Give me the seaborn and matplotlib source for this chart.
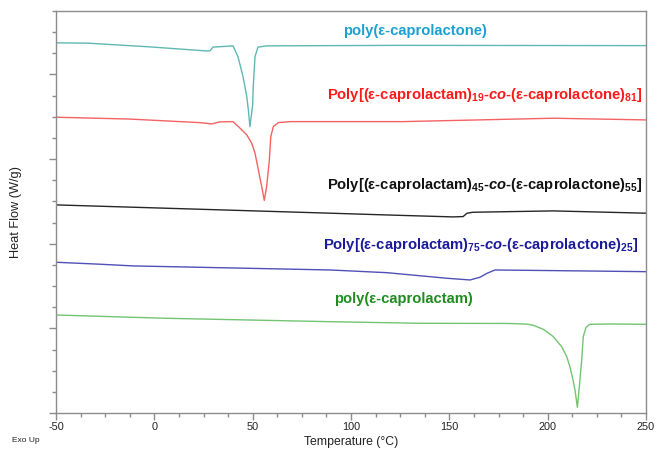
import matplotlib
matplotlib.use("Agg")
import numpy as np
import pandas as pd
import matplotlib.pyplot as plt
import seaborn as sns
from matplotlib.ticker import MultipleLocator, NullFormatter

# --------------------------------------------------------------------------- #
# DATA  (heat flow in arbitrary offset units)    #
# --------------------------------------------------------------------------- #
pcl_T = [-50, -33.7, -2.2, 25.8, 28.3, 29.8, 40.0, 42.5, 45.1, 47.0, 47.8, 48.6,
         49.5, 50.0, 50.3, 51.2, 52.7, 57.1, 124.9, 250]
pcl_hf = [4.374, 4.370, 4.326, 4.279, 4.279, 4.323, 4.338, 4.212, 3.975, 3.739,
          3.582, 3.384, 3.546, 3.641, 3.857, 4.212, 4.323, 4.338, 4.344, 4.341]

co19_T = [-50, -12.4, 23.2, 29.2, 33.4, 40.0, 43.6, 47.0, 49.5, 51.2, 52.9, 54.6,
          55.9, 57.1, 58.5, 59.2, 60.5, 63.0, 69.0, 126.4, 202.7, 250]
co19_hf = [3.495, 3.473, 3.431, 3.416, 3.440, 3.443, 3.365, 3.286, 3.188, 3.070,
           2.872, 2.675, 2.512, 2.675, 2.991, 3.266, 3.384, 3.431, 3.443, 3.443,
           3.483, 3.463]

co45_T = [-50, 89.3, 118.3, 151.9, 157.0, 159.0, 162.0, 202.7, 250]
co45_hf = [2.459, 2.361, 2.340, 2.317, 2.321, 2.361, 2.372, 2.388, 2.361]

co75_T = [-50, -27.6, -10.8, 89.3, 118.3, 148.8, 160.5, 165.6, 169.2, 173.2, 220.0, 250]
co75_hf = [1.781, 1.758, 1.738, 1.690, 1.658, 1.592, 1.572, 1.604, 1.651, 1.690,
           1.678, 1.670]

pa6_T = [-50, 6.4, 89.3, 135.1, 180.0, 189.5, 192.7, 197.8, 202.9, 207.1, 209.7,
         211.3, 212.7, 213.9, 215.1, 216.1, 217.3, 218.1, 219.5, 221.5, 231.7, 250]
pa6_hf = [1.158, 1.119, 1.079, 1.060, 1.058, 1.050, 1.036, 0.989, 0.902, 0.784,
          0.666, 0.547, 0.410, 0.272, 0.067, 0.311, 0.626, 0.902, 1.013, 1.048,
          1.052, 1.048]

series = [
    ("PCL", pcl_T, pcl_hf, "#5fb8b3"),
    ("co19", co19_T, co19_hf, "#f56262"),
    ("co45", co45_T, co45_hf, "#262626"),
    ("co75", co75_T, co75_hf, "#5050b8"),
    ("PA6", pa6_T, pa6_hf, "#72c472"),
]

labels = [
    ("poly(ε-caprolactone)", "#1ba1d0", 415, 31),
    ("Poly[(ε-caprolactam)$_{19}$-$\\mathit{co}$-(ε-caprolactone)$_{81}$]", "#ff1a1a", 485, 95),
    ("Poly[(ε-caprolactam)$_{45}$-$\\mathit{co}$-(ε-caprolactone)$_{55}$]", "#111111", 485, 185),
    ("Poly[(ε-caprolactam)$_{75}$-$\\mathit{co}$-(ε-caprolactone)$_{25}$]", "#1a1a9a", 481, 245),
    ("poly(ε-caprolactam)", "#1f8c1f", 403, 299),
]

# --------------------------------------------------------------------------- #
# STYLE                                                                        #
# --------------------------------------------------------------------------- #
sns.set_theme(style="ticks")
plt.rcParams["font.family"] = ["Liberation Sans", "DejaVu Sans"]
plt.rcParams["axes.unicode_minus"] = False
plt.rcParams["mathtext.fontset"] = "custom"
plt.rcParams["mathtext.rm"] = "Liberation Sans:bold"
plt.rcParams["mathtext.bf"] = "Liberation Sans:bold"
plt.rcParams["mathtext.it"] = "Liberation Sans:bold:italic"
plt.rcParams["mathtext.default"] = "rm"

W, H = 657, 451
fig = plt.figure(figsize=(W / 100, H / 100), dpi=100)
ax = fig.add_axes([56 / W, 1 - 413 / H, 590 / W, 402 / H])

for name, T, hf, col in series:
    df = pd.DataFrame({"T": T, "hf": hf})
    sns.lineplot(data=df, x="T", y="hf", color=col, lw=1.0, ax=ax,
                 estimator=None, sort=False)

ax.set_xlim(-50, 250)
ax.set_ylim(0, 4.75)
ax.xaxis.set_major_locator(MultipleLocator(50))
ax.xaxis.set_minor_locator(MultipleLocator(12.5))
ax.yaxis.set_major_locator(MultipleLocator(1))
ax.yaxis.set_minor_locator(MultipleLocator(0.25))
ax.yaxis.set_major_formatter(NullFormatter())

for sp in ax.spines.values():
    sp.set_color("#8c8c8c")
    sp.set_linewidth(1.0)
ax.tick_params(which="major", length=5, width=1, color="#8c8c8c",
               labelsize=7.8, pad=1.5, labelcolor="#222222")
ax.tick_params(which="minor", length=3, width=1, color="#8c8c8c")

ax.set_xlabel("Temperature (°C)", fontsize=8.8, color="#222222", labelpad=3)
ax.set_ylabel("")
fig.text(16 / W, 1 - 212 / H, "Heat Flow (W/g)", fontsize=9.2, color="#222222",
         rotation=90, ha="center", va="center")

# curve labels, placed in pixel coordinates of the figure
for txt, col, px, py in labels:
    fig.text(px / W, 1 - py / H, txt, color=col, fontsize=10.6,
             fontweight="bold", ha="center", va="center")

fig.text(12 / W, 1 - 441 / H, "Exo Up", fontsize=6, color="#222222",
         ha="left", va="center")

fig.savefig("out.png", dpi=100)
